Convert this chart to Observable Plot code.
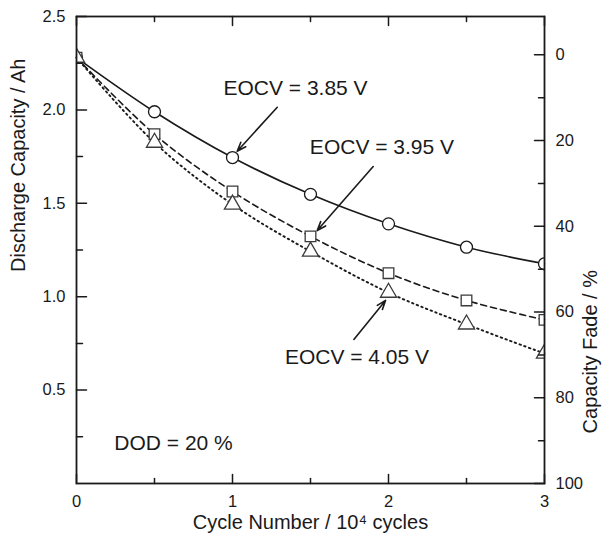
<!DOCTYPE html>
<html><head><meta charset="utf-8">
<script src="https://cdn.jsdelivr.net/npm/d3@7"></script>
<script src="https://cdn.jsdelivr.net/npm/@observablehq/plot@0.6"></script>
<style>body{margin:0;background:#fff}</style>
</head><body><div id="chart"></div>
<script>
// ---- data ----
const cycles = [0, 0.5, 1, 1.5, 2, 2.5, 3];                 // 10^4 cycles
const cap385 = [2.28, 1.99, 1.745, 1.548, 1.39, 1.265, 1.176]; // EOCV 3.85 V
const cap395 = [2.28, 1.87, 1.563, 1.323, 1.126, 0.98, 0.876]; // EOCV 3.95 V
const cap405 = [2.28, 1.825, 1.494, 1.242, 1.022, 0.852, 0.696]; // EOCV 4.05 V
const seriesNames = ["EOCV = 3.85 V", "EOCV = 3.95 V", "EOCV = 4.05 V"];
const xMajor = [0, 1, 2, 3];
const xMinor = [0.5, 1.5, 2.5];
const yMajor = [0.5, 1.0, 1.5, 2.0, 2.5];
const yMinor = [0.25, 0.75, 1.25, 1.75, 2.25];
const fadeMajor = [0, 20, 40, 60, 80, 100];
const fadeMinor = [10, 30, 50, 70, 90];
const initialCapacity = 2.295; // Ah at 0 % fade

// ---- derived tables ----
const rows = [];
[cap385, cap395, cap405].forEach((s, k) => s.forEach((v, i) => rows.push({series: seriesNames[k], x: cycles[i], y: v})));
const toAh = f => initialCapacity * (1 - f / 100);

const font = "Liberation Sans, Arial, Helvetica, sans-serif";
const ink = "#1a1a1a";
const tickShape = {draw(ctx, l) { ctx.moveTo(0, 0); ctx.lineTo(0, -l); }};
const tk = (vals, o, len) => Plot.vector(vals, {...o, length: len, anchor: "start", shape: tickShape, stroke: ink, strokeWidth: 1.5});

const styleOf = {
  "EOCV = 3.85 V": {dash: null, sym: "circle", w: 1.6},
  "EOCV = 3.95 V": {dash: "6,4", sym: "square", w: 1.6},
  "EOCV = 4.05 V": {dash: "1.5,3.5", sym: "triangle", w: 1.9}
};

const lineMarks = seriesNames.map(n => Plot.line(rows.filter(r => r.series === n), {
  x: "x", y: "y", curve: "catmull-rom", stroke: ink, strokeWidth: styleOf[n].w,
  strokeDasharray: styleOf[n].dash, strokeLinecap: "round"
}));
const dotMarks = seriesNames.map(n => Plot.dot(rows.filter(r => r.series === n), {
  x: "x", y: "y", symbol: () => styleOf[n].sym, r: 6, fill: "white",
  stroke: n === seriesNames[0] ? ink : "#3a3a3a", strokeWidth: 1.3, clip: true
}));

const labels = [
  {x: 1.404, y: 2.115, text: seriesNames[0]},
  {x: 1.958, y: 1.799, text: seriesNames[1]},
  {x: 1.798, y: 0.675, text: seriesNames[2]},
  {x: 0.622, y: 0.214, text: "DOD = 20 %"}
];
const arrows = [
  {x1: 1.287, y1: 2.014, x2: 1.030, y2: 1.779},
  {x1: 1.902, y1: 1.697, x2: 1.543, y2: 1.354},
  {x1: 1.778, y1: 0.771, x2: 1.981, y2: 0.980}
];

const chart = Plot.plot({
  width: 605, height: 538,
  marginLeft: 76, marginRight: 61, marginTop: 16, marginBottom: 55,
  x: {domain: [0, 3], axis: null},
  y: {domain: [0, 2.5], axis: null},
  style: {fontFamily: font, background: "white", color: ink},
  marks: [
    ...lineMarks,
    ...dotMarks,
    Plot.arrow(arrows, {x1: "x1", y1: "y1", x2: "x2", y2: "y2", stroke: ink, strokeWidth: 1.6, headLength: 9, headAngle: 40}),
    Plot.text(labels, {x: "x", y: "y", text: "text", fontSize: 21, fill: ink}),
    // ticks
    tk(xMajor, {x: d => d, y: 0, rotate: 0}, 9),
    tk(xMinor, {x: d => d, y: 0, rotate: 0}, 5),
    tk(xMajor, {x: d => d, y: 2.5, rotate: 180}, 9),
    tk(xMinor, {x: d => d, y: 2.5, rotate: 180}, 5),
    tk(yMajor, {x: 0, y: d => d, rotate: 90}, 10),
    tk(yMinor, {x: 0, y: d => d, rotate: 90}, 6),
    tk(fadeMajor.map(toAh), {x: 3, y: d => d, rotate: -90}, 10),
    tk(fadeMinor.map(toAh), {x: 3, y: d => d, rotate: -90}, 6),
    Plot.frame({stroke: ink, strokeWidth: 1.8}),
    // tick labels
    Plot.text(xMajor, {x: d => d, y: 0, text: d => String(d), dy: 18, fontSize: 16.5, fill: ink}),
    Plot.text(yMajor, {x: 0, y: d => d, text: d => d.toFixed(1), dx: -11, textAnchor: "end", fontSize: 16.5, fill: ink}),
    Plot.text(fadeMajor, {x: 3, y: d => toAh(d), text: d => String(d), dx: 11, textAnchor: "start", fontSize: 16.5, fill: ink}),
    // axis titles
    Plot.text(["Cycle Number / 10\u2074 cycles"], {frameAnchor: "bottom", text: d => d, dy: 45, fontSize: 20, fill: ink}),
    Plot.text(["Discharge Capacity / Ah"], {frameAnchor: "left", text: d => d, rotate: -90, dx: -58, dy: 22, fontSize: 20, fill: ink}),
    Plot.text(["Capacity Fade / %"], {frameAnchor: "right", text: d => d, rotate: -90, dx: 46, dy: 20, fontSize: 20, fill: ink})
  ]
});
document.getElementById("chart").append(chart);
</script>
</body></html>
